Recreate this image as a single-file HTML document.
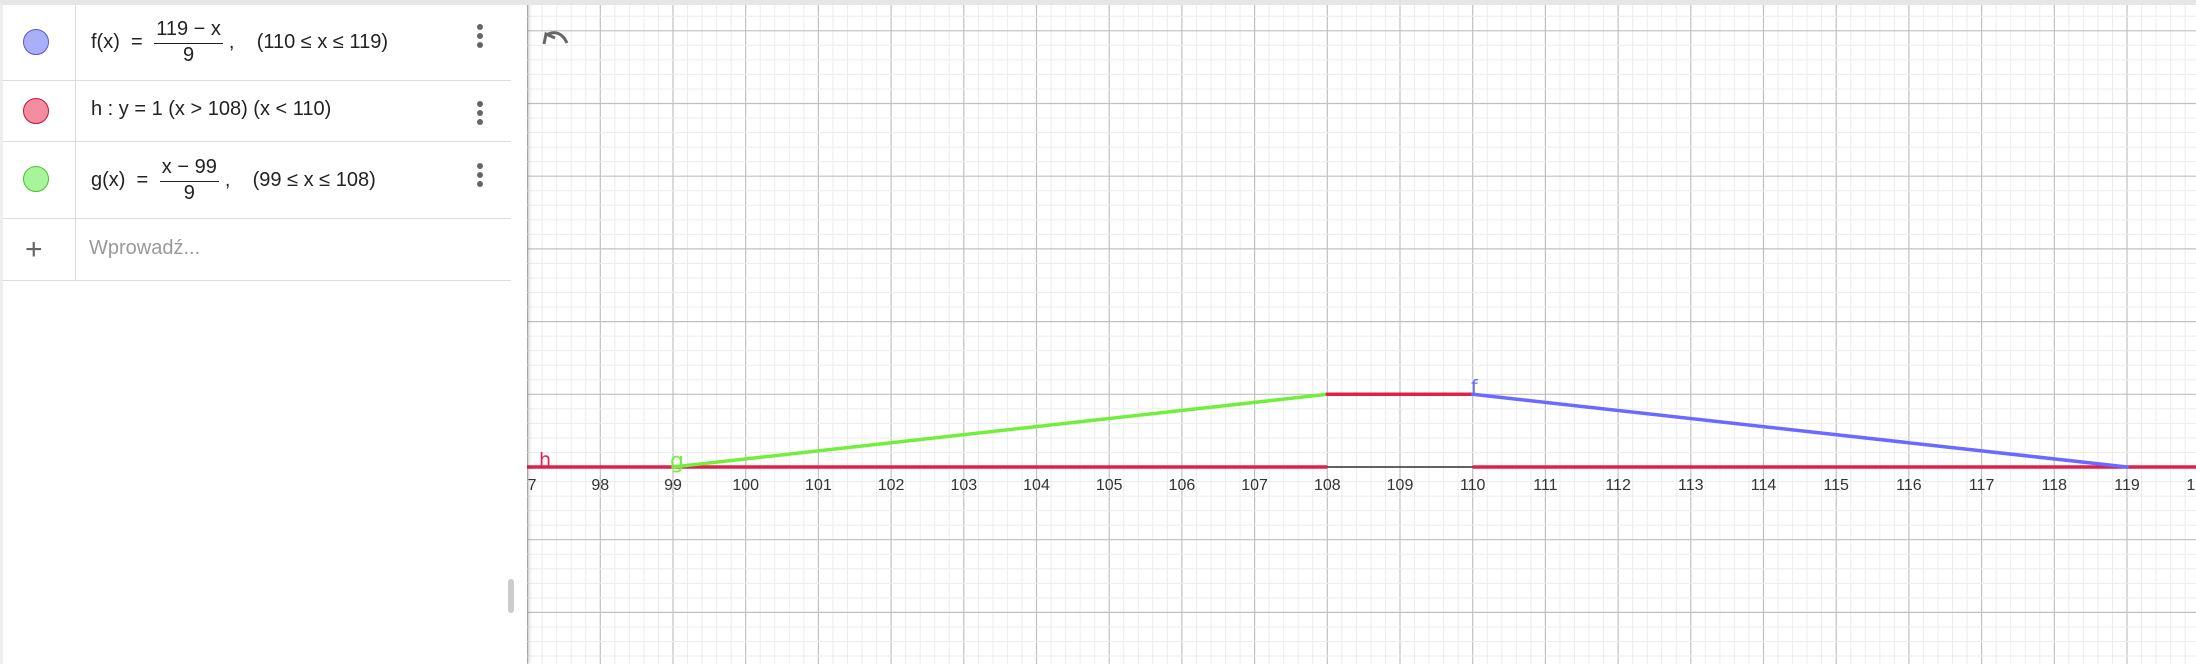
<!DOCTYPE html>
<html><head><meta charset="utf-8">
<style>
body{margin:0;width:2196px;height:664px;overflow:hidden;background:#fff;font-family:"Liberation Sans",sans-serif;position:relative}
#topbar{position:absolute;left:0;top:0;width:2196px;height:5px;background:#e6e6e6;z-index:3}
#panel{position:absolute;left:0;top:0;width:527px;height:664px;background:#fff;box-shadow:2px 0 4px rgba(0,0,0,0.18);z-index:2;border-left:3px solid #eee;box-sizing:border-box}
.row{position:absolute;left:0;width:508px;border-bottom:1px solid #ddd}
.col{position:absolute;left:72px;top:5px;width:1px;height:275px;background:#ddd}
.dot{position:absolute;left:20px;width:24px;height:24px;border-radius:50%}
.txt{position:absolute;left:88px;font-size:20px;color:#222;white-space:nowrap;display:flex;align-items:center}
.frac{display:inline-flex;flex-direction:column;align-items:center;margin:0 6px}
.frac span:first-child{border-bottom:1.5px solid #222;padding:0 2px 2px}
.kebab{position:absolute;left:474px;width:6px}
.kebab i{display:block;width:6px;height:6px;border-radius:50%;background:#666;margin-bottom:3px}
svg{position:absolute;left:0;top:0}
</style></head><body>
<div id="topbar"></div>
<div id="panel">
  <div class="col"></div>
  <div class="row" style="top:5px;height:75px"></div>
  <div class="row" style="top:80px;height:61px"></div>
  <div class="row" style="top:141px;height:77px"></div>
  <div class="row" style="top:218px;height:62px"></div>
  <div class="dot" style="top:29px;background:#aab0f8;border:1px solid #5555dd"></div>
  <div class="dot" style="top:98px;background:#f48da0;border:1px solid #c8103a"></div>
  <div class="dot" style="top:166px;background:#a6f59a;border:1px solid #4cc030"></div>
  <div class="txt" style="top:18px">f(x)&nbsp;&nbsp;=&nbsp;<span class="frac"><span>119 − x</span><span>9</span></span>,&nbsp;&nbsp;&nbsp;&nbsp;(110 ≤ x ≤ 119)</div>
  <div class="txt" style="top:98px">h : y = 1 (x &gt; 108) (x &lt; 110)</div>
  <div class="txt" style="top:156px">g(x)&nbsp;&nbsp;=&nbsp;<span class="frac"><span>x − 99</span><span>9</span></span>,&nbsp;&nbsp;&nbsp;&nbsp;(99 ≤ x ≤ 108)</div>
  <div class="kebab" style="top:24px"><i></i><i></i><i></i></div>
  <div class="kebab" style="top:101px"><i></i><i></i><i></i></div>
  <div class="kebab" style="top:163px"><i></i><i></i><i></i></div>
  <div style="position:absolute;left:22px;top:235px;font-size:30px;color:#666;line-height:30px">+</div>
  <div style="position:absolute;left:86px;top:237px;font-size:20px;color:#999">Wprowadź...</div>
  <div style="position:absolute;left:505px;top:579px;width:6px;height:34px;background:#ccc;border-radius:3px"></div>
</div>
<svg id="g" width="2196" height="664"></svg>
<script>
const segX1=[99,108,110];
const segY1=[0,1,1];
const segX2=[108,110,119];
const segY2=[1,1,0];
const segColor=['#72ef3c','#e0204a','#6a6aff'];
const segNames=['g-line','h-top-line','f-line'];
const hBaseX1=[90,110];
const hBaseX2=[108,130];
const tickVals=[97,98,99,100,101,102,103,104,105,106,107,108,109,110,111,112,113,114,115,116,117,118,119,120];
const NS='http://www.w3.org/2000/svg';
const svg=document.getElementById('g');
const X0=527,U=72.7,Y0=467;
const sx=v=>673+(v-99)*U, sy=v=>Y0-v*U;
function mk(t,a){const e=document.createElementNS(NS,t);for(const k in a)e.setAttribute(k,a[k]);svg.appendChild(e);return e;}
const cp=mk('clipPath',{id:'c'});
const cr=document.createElementNS(NS,'rect');cp.appendChild(cr);
cr.setAttribute('x',X0);cr.setAttribute('y',5);cr.setAttribute('width',2196-X0);cr.setAttribute('height',659);
const G=mk('g',{'clip-path':'url(#c)'});
function add(t,a){const e=document.createElementNS(NS,t);for(const k in a)e.setAttribute(k,a[k]);G.appendChild(e);return e;}
for(let i=-60;i<160;i++){const v=96+i/5;const x=sx(v);if(x<X0-2||x>2200)continue;
 const major=i%5===0;const l=add('line',{x1:x,x2:x,y1:0,y2:664,stroke:major?'#c0c0c0':'#ececec','stroke-width':major?1.2:1});
 }
for(let i=-20;i<50;i++){const y=sy(i/5);if(y<0||y>664)continue;const major=i%5===0;
 const l=add('line',{x1:X0,x2:2196,y1:y,y2:y,stroke:major?'#c0c0c0':'#ececec','stroke-width':major?1.2:1});
 }
const ax=add('line',{x1:X0,x2:2196,y1:Y0,y2:Y0,stroke:'#333','stroke-width':1.5});

tickVals.forEach(v=>{const t=add('text',{x:sx(v),y:Y0+23,'text-anchor':'middle','font-size':16,fill:'#333','font-family':'Liberation Sans, sans-serif'});t.textContent=v;
 });
hBaseX1.forEach((a,i)=>{const l=add('line',{x1:sx(a),x2:sx(hBaseX2[i]),y1:sy(0),y2:sy(0),stroke:'#e0204a','stroke-width':3.5});
 });
segX1.forEach((a,i)=>{const l=add('line',{x1:sx(a),y1:sy(segY1[i]),x2:sx(segX2[i]),y2:sy(segY2[i]),stroke:segColor[i],'stroke-width':3.5,'stroke-linecap':'round'});
 });
const lab=[['h',539,466,19,'#e0204a','h-label'],['g',670,468,22,'#72ef3c','g-label'],['f',1471,393,19,'#6a6aff','f-label']];
lab.forEach(d=>{const t=add('text',{x:d[1],y:d[2],'font-size':d[3],fill:d[4],'font-family':'DejaVu Sans, sans-serif'});t.textContent=d[0];
 });
const u=mk('path',{d:'M544 44 L546 34 L555 38 M546 35 Q560 28 567 43',fill:'none',stroke:'#666','stroke-width':3});

</script>
</body></html>
